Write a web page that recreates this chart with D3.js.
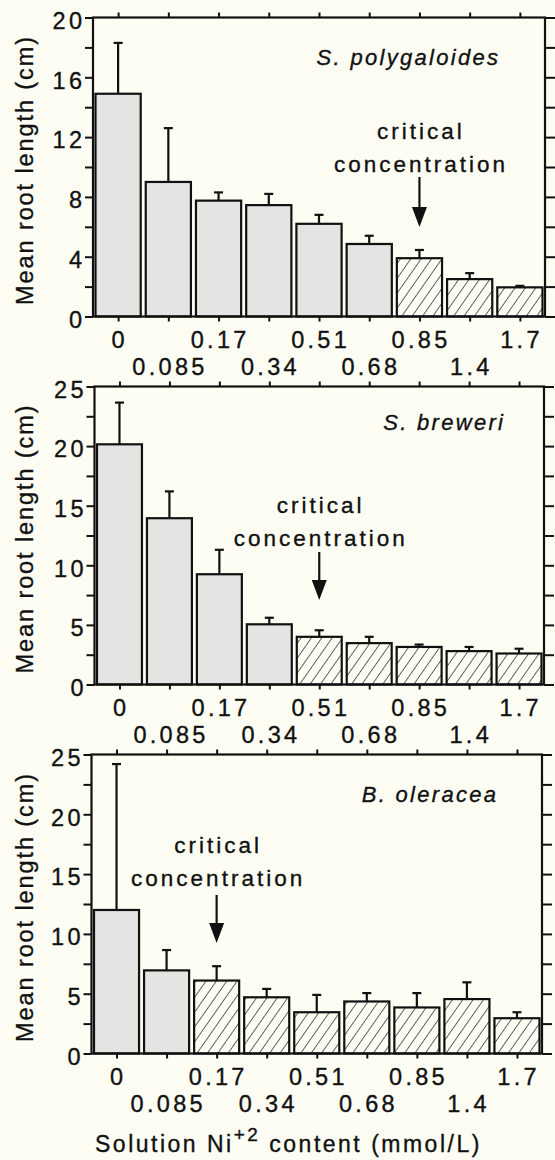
<!DOCTYPE html>
<html><head><meta charset="utf-8">
<script src="https://cdn.jsdelivr.net/npm/d3@7"></script>
<style>
body{margin:0;background:#fdfdf4;}
svg{display:block;}
text{font-family:"Liberation Sans", Arial, Helvetica, sans-serif; fill:#111; stroke:#111; stroke-width:0.35px;}
</style>
</head><body>
<svg id="chart" width="555" height="1160"></svg>
<script>
// ---------- data ----------
const categories = ["0","0.085","0.17","0.34","0.51","0.68","0.85","1.4","1.7"];
const species = ["S. polygaloides","S. breweri","B. oleracea"];
const polyMean = [14.9, 9.0, 7.75, 7.45, 6.2, 4.85, 3.9, 2.5, 1.95];
const polySE   = [3.4, 3.6, 0.55, 0.75, 0.6, 0.55, 0.55, 0.4, 0.1];
const brewMean = [20.15, 13.95, 9.25, 5.05, 4.0, 3.47, 3.15, 2.8, 2.6];
const brewSE   = [3.5, 2.25, 2.05, 0.55, 0.55, 0.53, 0.2, 0.35, 0.4];
const olerMean = [12.0, 6.95, 6.1, 4.7, 3.45, 4.35, 3.85, 4.55, 2.95];
const olerSE   = [12.2, 1.7, 1.2, 0.7, 1.45, 0.7, 1.2, 1.4, 0.5];
const criticalIndex = [6, 4, 2];
const yMaxes = [20, 25, 25];
const majorSteps = [4, 5, 5];
const minorSteps = [2, 2.5, 2.5];

// ---------- layout ----------
const BG = "#fdfdf4", BAR = "#e4e4e2", INK = "#111";
const layout = [
  {l:93,  r:545, t:17.5,  b:316.5, lab:{x:498, y:65},  note:{y1:139, y2:172, a1:177, a2:227}},
  {l:94.5,r:544, t:386.5, b:684.5, lab:{x:503, y:430}, note:{y1:513, y2:546, a1:552, a2:600}},
  {l:91.5,r:542, t:754.5, b:1053.5,lab:{x:496, y:802}, note:{y1:853, y2:886, a1:895, a2:943}}
];
const means = [polyMean, brewMean, olerMean];
const ses = [polySE, brewSE, olerSE];

const svg = d3.select("#chart");
svg.append("rect").attr("width",555).attr("height",1160).attr("fill",BG);

const defs = svg.append("defs");
const pat = defs.append("pattern").attr("id","hatch")
  .attr("patternUnits","userSpaceOnUse").attr("width",8.5).attr("height",8.5)
  .attr("patternTransform","rotate(35)");
pat.append("rect").attr("width",8.5).attr("height",8.5).attr("fill",BG);
pat.append("line").attr("x1",0).attr("y1",0).attr("x2",0).attr("y2",8.5)
  .attr("stroke","#222").attr("stroke-width",1.4);

const TF = 23.5, TLS = 3.3;   // tick font / letter spacing

layout.forEach((L, pi) => {
  const g = svg.append("g");
  const x = d3.scaleBand().domain(categories).range([L.l, L.r]).paddingInner(0.1).paddingOuter(0.05);
  const y = d3.scaleLinear().domain([0, yMaxes[pi]]).range([L.b, L.t]);
  const cx = c => x(c) + x.bandwidth()/2;
  const yTicks = d3.range(0, yMaxes[pi] + 1e-6, minorSteps[pi]);
  const data = categories.map((c,i) => ({c, m: means[pi][i], se: ses[pi][i], i}));

  // bars
  g.selectAll("rect.bar").data(data).join("rect")
    .attr("x", d => x(d.c)).attr("width", x.bandwidth())
    .attr("y", d => y(d.m)).attr("height", d => y(0) - y(d.m))
    .attr("fill", d => d.i >= criticalIndex[pi] ? "url(#hatch)" : BAR)
    .attr("stroke", INK).attr("stroke-width", 2.2);

  // error bars
  g.selectAll("line.err").data(data).join("line")
    .attr("x1", d => cx(d.c)).attr("x2", d => cx(d.c))
    .attr("y1", d => y(d.m)).attr("y2", d => y(d.m + d.se))
    .attr("stroke", INK).attr("stroke-width", 2.2);
  g.selectAll("line.cap").data(data).join("line")
    .attr("x1", d => cx(d.c) - 4.5).attr("x2", d => cx(d.c) + 4.5)
    .attr("y1", d => y(d.m + d.se)).attr("y2", d => y(d.m + d.se))
    .attr("stroke", INK).attr("stroke-width", 2.2);

  // axes (ticks)
  const styleAxis = sel => { sel.select(".domain").remove(); sel.selectAll(".tick line").attr("stroke", INK).attr("stroke-width", 2); sel.selectAll(".tick text").remove(); };
  g.append("g").attr("transform",`translate(${L.l},0)`)
    .call(d3.axisLeft(y).tickValues(yTicks).tickSize(8)).call(styleAxis);
  g.append("g").attr("transform",`translate(${L.r},0)`)
    .call(d3.axisRight(y).tickValues(yTicks).tickSize(10)).call(styleAxis);
  const xc = d3.scalePoint().domain(categories).range([cx(categories[0]), cx(categories[categories.length-1])]);
  g.append("g").attr("transform",`translate(0,${L.t})`)
    .call(d3.axisTop(xc).tickSize(5)).call(styleAxis);
  g.append("g").attr("transform",`translate(0,${L.b})`)
    .call(d3.axisBottom(xc).tickSize(5)).call(styleAxis);

  // frame
  g.append("rect").attr("x",L.l).attr("y",L.t).attr("width",L.r-L.l).attr("height",L.b-L.t)
    .attr("fill","none").attr("stroke",INK).attr("stroke-width",2.2);

  // y tick labels
  g.selectAll("text.yl").data(yTicks.filter(v => Math.abs(v % majorSteps[pi]) < 1e-6)).join("text")
    .attr("x", L.l - 11 + TLS).attr("y", d => y(d)).attr("dy","0.48em")
    .attr("text-anchor","end").style("font-size",TF+"px").style("letter-spacing",TLS+"px")
    .text(d => d);

  // x tick labels, two staggered rows
  g.selectAll("text.xl").data(categories).join("text")
    .attr("x", c => xc(c) + TLS/2)
    .attr("y", (c,i) => L.b + (i % 2 === 0 ? 31 : 58))
    .attr("text-anchor","middle").style("font-size",TF+"px").style("letter-spacing",TLS+"px")
    .text(c => c);

  // species label
  g.append("text").attr("x", L.lab.x + 2.3).attr("y", L.lab.y)
    .attr("text-anchor","end").style("font-size","22px").style("font-style","italic")
    .style("letter-spacing","2.3px").text(species[pi]);

  // critical concentration note + arrow
  const ac = cx(categories[criticalIndex[pi]]);
  const N = L.note;
  [["critical", N.y1], ["concentration", N.y2]].forEach(([t, yy]) => {
    g.append("text").attr("x", ac + 1.5).attr("y", yy).attr("text-anchor","middle")
      .style("font-size","22.5px").style("letter-spacing","3px").text(t);
  });
  g.append("line").attr("x1",ac).attr("x2",ac).attr("y1",N.a1).attr("y2",N.a2-18)
    .attr("stroke",INK).attr("stroke-width",2.2);
  g.append("path").attr("d",`M${ac-7.5},${N.a2-20}L${ac+7.5},${N.a2-20}L${ac},${N.a2}Z`).attr("fill",INK);

  // y title
  g.append("text").attr("transform",`translate(33,${(L.t+L.b)/2 + 3}) rotate(-90)`)
    .attr("text-anchor","middle").style("font-size","23.5px").style("letter-spacing","1.9px")
    .text("Mean root length (cm)");
});

// x title
const xt = svg.append("text").attr("x",95).attr("y",1152).style("font-size","23px").style("letter-spacing","2.5px");
xt.append("tspan").text("Solution Ni");
xt.append("tspan").attr("dy",-11).style("font-size","19px").text("+2");
xt.append("tspan").attr("dy",11).text(" content (mmol/L)");
</script>
</body></html>
